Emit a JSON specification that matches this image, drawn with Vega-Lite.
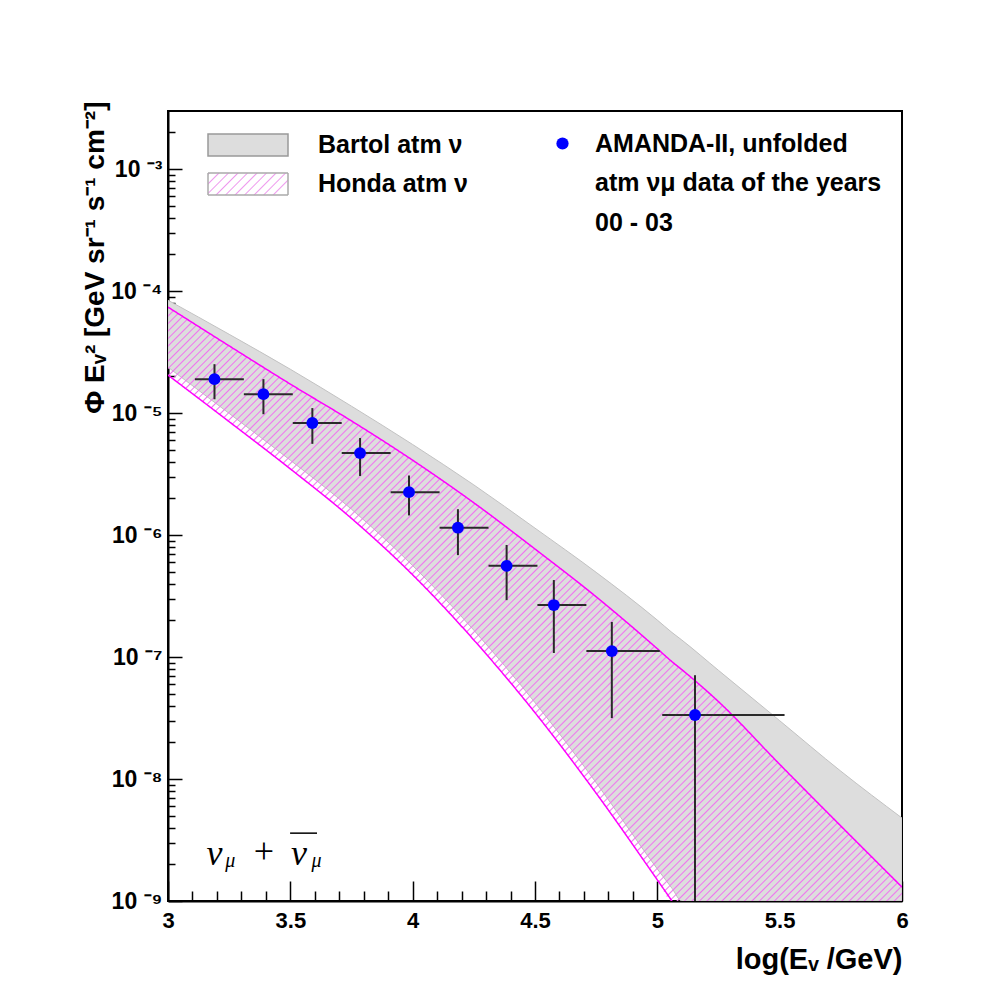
{
  "$schema": "https://vega.github.io/schema/vega-lite/v6.json",
  "width": 734,
  "height": 790,
  "autosize": {"type": "none"},
  "padding": {"left": 168, "top": 111, "right": 90, "bottom": 99},
  "background": "white",
  "resolve": {"axis": {"x": "independent", "y": "independent"}},
  "datasets": {
    "bands": [
      {"x": 3.0, "bartol_lo": 2.38e-5, "bartol_hi": 8.43e-5, "honda_lo": 2.05e-5, "honda_hi": 7.40e-5},
      {"x": 3.25, "bartol_lo": 9.95e-6, "bartol_hi": 4.43e-5, "honda_lo": 8.51e-6, "honda_hi": 3.56e-5},
      {"x": 3.5, "bartol_lo": 4.11e-6, "bartol_hi": 2.29e-5, "honda_lo": 3.49e-6, "honda_hi": 1.73e-5},
      {"x": 3.75, "bartol_lo": 1.63e-6, "bartol_hi": 1.14e-5, "honda_lo": 1.37e-6, "honda_hi": 8.63e-6},
      {"x": 4.0, "bartol_lo": 5.62e-7, "bartol_hi": 5.53e-6, "honda_lo": 4.72e-7, "honda_hi": 4.11e-6},
      {"x": 4.25, "bartol_lo": 1.66e-7, "bartol_hi": 2.58e-6, "honda_lo": 1.38e-7, "honda_hi": 1.84e-6},
      {"x": 4.5, "bartol_lo": 4.23e-8, "bartol_hi": 1.14e-6, "honda_lo": 3.50e-8, "honda_hi": 7.69e-7},
      {"x": 4.75, "bartol_lo": 9.33e-9, "bartol_hi": 4.95e-7, "honda_lo": 7.65e-9, "honda_hi": 3.12e-7},
      {"x": 5.0, "bartol_lo": 1.83e-9, "bartol_hi": 2.01e-7, "honda_lo": 1.49e-9, "honda_hi": 1.17e-7},
      {"x": 5.06, "bartol_lo": 1.27e-9, "bartol_hi": 1.59e-7, "honda_lo": 1.0e-9, "honda_hi": 9.16e-8},
      {"x": 5.1, "bartol_lo": 1.0e-9, "bartol_hi": 1.38e-7, "honda_lo": 1.0e-9, "honda_hi": 7.89e-8},
      {"x": 5.25, "bartol_lo": 1.0e-9, "bartol_hi": 7.78e-8, "honda_lo": 1.0e-9, "honda_hi": 4.31e-8},
      {"x": 5.5, "bartol_lo": 1.0e-9, "bartol_hi": 3.01e-8, "honda_lo": 1.0e-9, "honda_hi": 1.32e-8},
      {"x": 5.75, "bartol_lo": 1.0e-9, "bartol_hi": 1.16e-8, "honda_lo": 1.0e-9, "honda_hi": 4.12e-9},
      {"x": 6.0, "bartol_lo": 1.0e-9, "bartol_hi": 4.79e-9, "honda_lo": 1.0e-9, "honda_hi": 1.30e-9}
    ],
    "amanda": [
      {"x": 3.19, "y": 1.90e-5, "xlo": 3.11, "xhi": 3.31, "ylo": 1.30e-5, "yhi": 2.52e-5},
      {"x": 3.39, "y": 1.43e-5, "xlo": 3.31, "xhi": 3.51, "ylo": 9.8e-6, "yhi": 1.90e-5},
      {"x": 3.59, "y": 8.3e-6, "xlo": 3.51, "xhi": 3.71, "ylo": 5.6e-6, "yhi": 1.10e-5},
      {"x": 3.785, "y": 4.7e-6, "xlo": 3.71, "xhi": 3.91, "ylo": 3.05e-6, "yhi": 6.25e-6},
      {"x": 3.985, "y": 2.25e-6, "xlo": 3.91, "xhi": 4.11, "ylo": 1.45e-6, "yhi": 3.08e-6},
      {"x": 4.185, "y": 1.15e-6, "xlo": 4.11, "xhi": 4.31, "ylo": 6.85e-7, "yhi": 1.63e-6},
      {"x": 4.384, "y": 5.6e-7, "xlo": 4.31, "xhi": 4.51, "ylo": 2.93e-7, "yhi": 8.3e-7},
      {"x": 4.577, "y": 2.67e-7, "xlo": 4.51, "xhi": 4.71, "ylo": 1.08e-7, "yhi": 4.28e-7},
      {"x": 4.814, "y": 1.12e-7, "xlo": 4.71, "xhi": 5.01, "ylo": 3.16e-8, "yhi": 1.94e-7},
      {"x": 5.154, "y": 3.35e-8, "xlo": 5.02, "xhi": 5.52, "ylo": 1.0e-9, "yhi": 7.1e-8}
    ]
  },
  "config": {
    "font": "Liberation Sans",
    "view": {"stroke": "black", "strokeWidth": 2},
    "style": {"guide-label": {"lineHeight": 39.5}},
    "axis": {
      "zindex": 1,
      "grid": false, "domainColor": "black", "domainWidth": 2, "ticks": true, "tickColor": "black", "tickWidth": 1.5, "tickOpacity": 1,
      "labelFont": "Liberation Sans", "labelFontWeight": "bold", "labelFontSize": 22,
      "labelColor": "black", "titleFont": "Liberation Sans", "titleFontWeight": "bold", "titleFontSize": 28,
      "titleColor": "black", "labelOverlap": false, "labelFlush": false, "labelBound": false
    },
    "legend": {
      "labelFont": "Liberation Sans", "labelFontSize": 25, "labelFontWeight": "bold", "labelColor": "black",
      "labelLimit": 600, "padding": 0
    }
  },
  "layer": [
    {
      "data": {"name": "bands"},
      "mark": {"type": "area", "interpolate": "monotone", "clip": true, "stroke": "#c2c2c2", "strokeWidth": 1},
      "encoding": {
        "x": {
          "field": "x", "type": "quantitative",
          "scale": {"domain": [3, 6], "nice": false, "zero": false},
          "axis": {
            "orient": "bottom",
            "values": [3, 3.5, 4, 4.5, 5, 5.5, 6],
            "format": "~g",
            "labelOverlap": false, "labelFlush": false,
            "tickSize": -20, "labelPadding": 29, "labelBaseline": "top",
            "title": "log(Eᵥ /GeV)", "titleAnchor": "end", "titleAlign": "right", "titleFontSize": 29,
            "titleX": 734, "titleY": 58, "titleBaseline": "middle"
          }
        },
        "y": {
          "field": "bartol_hi", "type": "quantitative",
          "scale": {"type": "log", "domain": [1e-9, 3e-3], "nice": false},
          "axis": {
            "orient": "left",
            "values": [1e-9, 1e-8, 1e-7, 1e-6, 1e-5, 1e-4, 1e-3],
            "labelExpr": "'10 ⁻' + ['⁰','¹','²','³','⁴','⁵','⁶','⁷','⁸','⁹'][abs(round(log(datum.value)/LN10))]",
            "labelOverlap": false, "labelFontSize": 23,
            "tickSize": -14, "labelPadding": 20, "labelAlign": "right", "labelBaseline": "middle",
            "title": "Φ Eᵥ² [GeV sr⁻¹ s⁻¹ cm⁻²]", "titleAnchor": "end", "titleAlign": "right",
            "titleX": -73, "titleY": -10, "titleBaseline": "middle"
          }
        },
        "y2": {"field": "bartol_lo"},
        "fill": {
          "datum": "Bartol atm ν",
          "scale": {"range": ["#dddddd"]},
          "legend": {
            "orient": "none", "legendX": 39, "legendY": -7, "title": null,
            "symbolType": "M-1,-0.275H1V0.275H-1Z", "symbolSize": 6400, "labelOffset": 29,
            "symbolStrokeColor": "#999999", "symbolStrokeWidth": 1.5,
            "encode": {"symbols": {"update": {"fill": {"value": "#dddddd"}, "stroke": {"value": "#999999"}, "strokeWidth": {"value": 1.5}}}}
          }
        }
      }
    },
    {
      "data": {"name": "bands"},
      "mark": {
        "type": "area", "interpolate": "monotone", "clip": true, "strokeWidth": 0,
        "fill": {"gradient": "linear", "x1": 0, "y1": 0, "x2": 1.234, "y2": 0.998, "stops": [
{"offset":0,"color":"#e7e0"},{"offset":0.001,"color":"#e7e"},{"offset":0.002,"color":"#e7e0"},{"offset":0.005,"color":"#e7e0"},{"offset":0.006,"color":"#e7e"},{"offset":0.007,"color":"#e7e0"},
{"offset":0.01,"color":"#e7e0"},{"offset":0.011,"color":"#e7e"},{"offset":0.012,"color":"#e7e0"},{"offset":0.015,"color":"#e7e0"},{"offset":0.016,"color":"#e7e"},{"offset":0.017,"color":"#e7e0"},
{"offset":0.02,"color":"#e7e0"},{"offset":0.021,"color":"#e7e"},{"offset":0.022,"color":"#e7e0"},{"offset":0.025,"color":"#e7e0"},{"offset":0.026,"color":"#e7e"},{"offset":0.027,"color":"#e7e0"},
{"offset":0.03,"color":"#e7e0"},{"offset":0.031,"color":"#e7e"},{"offset":0.032,"color":"#e7e0"},{"offset":0.035,"color":"#e7e0"},{"offset":0.036,"color":"#e7e"},{"offset":0.037,"color":"#e7e0"},
{"offset":0.04,"color":"#e7e0"},{"offset":0.041,"color":"#e7e"},{"offset":0.042,"color":"#e7e0"},{"offset":0.045,"color":"#e7e0"},{"offset":0.046,"color":"#e7e"},{"offset":0.047,"color":"#e7e0"},
{"offset":0.05,"color":"#e7e0"},{"offset":0.051,"color":"#e7e"},{"offset":0.052,"color":"#e7e0"},{"offset":0.055,"color":"#e7e0"},{"offset":0.056,"color":"#e7e"},{"offset":0.057,"color":"#e7e0"},
{"offset":0.06,"color":"#e7e0"},{"offset":0.061,"color":"#e7e"},{"offset":0.062,"color":"#e7e0"},{"offset":0.065,"color":"#e7e0"},{"offset":0.066,"color":"#e7e"},{"offset":0.067,"color":"#e7e0"},
{"offset":0.07,"color":"#e7e0"},{"offset":0.071,"color":"#e7e"},{"offset":0.072,"color":"#e7e0"},{"offset":0.075,"color":"#e7e0"},{"offset":0.076,"color":"#e7e"},{"offset":0.077,"color":"#e7e0"},
{"offset":0.08,"color":"#e7e0"},{"offset":0.081,"color":"#e7e"},{"offset":0.082,"color":"#e7e0"},{"offset":0.085,"color":"#e7e0"},{"offset":0.086,"color":"#e7e"},{"offset":0.087,"color":"#e7e0"},
{"offset":0.09,"color":"#e7e0"},{"offset":0.091,"color":"#e7e"},{"offset":0.092,"color":"#e7e0"},{"offset":0.095,"color":"#e7e0"},{"offset":0.096,"color":"#e7e"},{"offset":0.097,"color":"#e7e0"},
{"offset":0.1,"color":"#e7e0"},{"offset":0.101,"color":"#e7e"},{"offset":0.102,"color":"#e7e0"},{"offset":0.105,"color":"#e7e0"},{"offset":0.106,"color":"#e7e"},{"offset":0.107,"color":"#e7e0"},
{"offset":0.11,"color":"#e7e0"},{"offset":0.111,"color":"#e7e"},{"offset":0.112,"color":"#e7e0"},{"offset":0.115,"color":"#e7e0"},{"offset":0.116,"color":"#e7e"},{"offset":0.117,"color":"#e7e0"},
{"offset":0.12,"color":"#e7e0"},{"offset":0.121,"color":"#e7e"},{"offset":0.122,"color":"#e7e0"},{"offset":0.125,"color":"#e7e0"},{"offset":0.126,"color":"#e7e"},{"offset":0.127,"color":"#e7e0"},
{"offset":0.13,"color":"#e7e0"},{"offset":0.131,"color":"#e7e"},{"offset":0.132,"color":"#e7e0"},{"offset":0.135,"color":"#e7e0"},{"offset":0.136,"color":"#e7e"},{"offset":0.137,"color":"#e7e0"},
{"offset":0.14,"color":"#e7e0"},{"offset":0.141,"color":"#e7e"},{"offset":0.142,"color":"#e7e0"},{"offset":0.145,"color":"#e7e0"},{"offset":0.146,"color":"#e7e"},{"offset":0.147,"color":"#e7e0"},
{"offset":0.15,"color":"#e7e0"},{"offset":0.151,"color":"#e7e"},{"offset":0.152,"color":"#e7e0"},{"offset":0.155,"color":"#e7e0"},{"offset":0.156,"color":"#e7e"},{"offset":0.157,"color":"#e7e0"},
{"offset":0.16,"color":"#e7e0"},{"offset":0.161,"color":"#e7e"},{"offset":0.162,"color":"#e7e0"},{"offset":0.165,"color":"#e7e0"},{"offset":0.166,"color":"#e7e"},{"offset":0.167,"color":"#e7e0"},
{"offset":0.17,"color":"#e7e0"},{"offset":0.171,"color":"#e7e"},{"offset":0.172,"color":"#e7e0"},{"offset":0.175,"color":"#e7e0"},{"offset":0.176,"color":"#e7e"},{"offset":0.177,"color":"#e7e0"},
{"offset":0.18,"color":"#e7e0"},{"offset":0.181,"color":"#e7e"},{"offset":0.182,"color":"#e7e0"},{"offset":0.185,"color":"#e7e0"},{"offset":0.186,"color":"#e7e"},{"offset":0.187,"color":"#e7e0"},
{"offset":0.19,"color":"#e7e0"},{"offset":0.191,"color":"#e7e"},{"offset":0.192,"color":"#e7e0"},{"offset":0.195,"color":"#e7e0"},{"offset":0.196,"color":"#e7e"},{"offset":0.197,"color":"#e7e0"},
{"offset":0.2,"color":"#e7e0"},{"offset":0.201,"color":"#e7e"},{"offset":0.202,"color":"#e7e0"},{"offset":0.205,"color":"#e7e0"},{"offset":0.206,"color":"#e7e"},{"offset":0.207,"color":"#e7e0"},
{"offset":0.21,"color":"#e7e0"},{"offset":0.211,"color":"#e7e"},{"offset":0.212,"color":"#e7e0"},{"offset":0.215,"color":"#e7e0"},{"offset":0.216,"color":"#e7e"},{"offset":0.217,"color":"#e7e0"},
{"offset":0.22,"color":"#e7e0"},{"offset":0.221,"color":"#e7e"},{"offset":0.222,"color":"#e7e0"},{"offset":0.225,"color":"#e7e0"},{"offset":0.226,"color":"#e7e"},{"offset":0.227,"color":"#e7e0"},
{"offset":0.23,"color":"#e7e0"},{"offset":0.231,"color":"#e7e"},{"offset":0.232,"color":"#e7e0"},{"offset":0.235,"color":"#e7e0"},{"offset":0.236,"color":"#e7e"},{"offset":0.237,"color":"#e7e0"},
{"offset":0.24,"color":"#e7e0"},{"offset":0.241,"color":"#e7e"},{"offset":0.242,"color":"#e7e0"},{"offset":0.245,"color":"#e7e0"},{"offset":0.246,"color":"#e7e"},{"offset":0.247,"color":"#e7e0"},
{"offset":0.25,"color":"#e7e0"},{"offset":0.251,"color":"#e7e"},{"offset":0.252,"color":"#e7e0"},{"offset":0.255,"color":"#e7e0"},{"offset":0.256,"color":"#e7e"},{"offset":0.257,"color":"#e7e0"},
{"offset":0.26,"color":"#e7e0"},{"offset":0.261,"color":"#e7e"},{"offset":0.262,"color":"#e7e0"},{"offset":0.265,"color":"#e7e0"},{"offset":0.266,"color":"#e7e"},{"offset":0.267,"color":"#e7e0"},
{"offset":0.27,"color":"#e7e0"},{"offset":0.271,"color":"#e7e"},{"offset":0.272,"color":"#e7e0"},{"offset":0.275,"color":"#e7e0"},{"offset":0.276,"color":"#e7e"},{"offset":0.277,"color":"#e7e0"},
{"offset":0.28,"color":"#e7e0"},{"offset":0.281,"color":"#e7e"},{"offset":0.282,"color":"#e7e0"},{"offset":0.285,"color":"#e7e0"},{"offset":0.286,"color":"#e7e"},{"offset":0.287,"color":"#e7e0"},
{"offset":0.29,"color":"#e7e0"},{"offset":0.291,"color":"#e7e"},{"offset":0.292,"color":"#e7e0"},{"offset":0.295,"color":"#e7e0"},{"offset":0.296,"color":"#e7e"},{"offset":0.297,"color":"#e7e0"},
{"offset":0.3,"color":"#e7e0"},{"offset":0.301,"color":"#e7e"},{"offset":0.302,"color":"#e7e0"},{"offset":0.305,"color":"#e7e0"},{"offset":0.306,"color":"#e7e"},{"offset":0.307,"color":"#e7e0"},
{"offset":0.31,"color":"#e7e0"},{"offset":0.311,"color":"#e7e"},{"offset":0.312,"color":"#e7e0"},{"offset":0.315,"color":"#e7e0"},{"offset":0.316,"color":"#e7e"},{"offset":0.317,"color":"#e7e0"},
{"offset":0.32,"color":"#e7e0"},{"offset":0.321,"color":"#e7e"},{"offset":0.322,"color":"#e7e0"},{"offset":0.325,"color":"#e7e0"},{"offset":0.326,"color":"#e7e"},{"offset":0.327,"color":"#e7e0"},
{"offset":0.33,"color":"#e7e0"},{"offset":0.331,"color":"#e7e"},{"offset":0.332,"color":"#e7e0"},{"offset":0.335,"color":"#e7e0"},{"offset":0.336,"color":"#e7e"},{"offset":0.337,"color":"#e7e0"},
{"offset":0.34,"color":"#e7e0"},{"offset":0.341,"color":"#e7e"},{"offset":0.342,"color":"#e7e0"},{"offset":0.345,"color":"#e7e0"},{"offset":0.346,"color":"#e7e"},{"offset":0.347,"color":"#e7e0"},
{"offset":0.35,"color":"#e7e0"},{"offset":0.351,"color":"#e7e"},{"offset":0.352,"color":"#e7e0"},{"offset":0.355,"color":"#e7e0"},{"offset":0.356,"color":"#e7e"},{"offset":0.357,"color":"#e7e0"},
{"offset":0.36,"color":"#e7e0"},{"offset":0.361,"color":"#e7e"},{"offset":0.362,"color":"#e7e0"},{"offset":0.365,"color":"#e7e0"},{"offset":0.366,"color":"#e7e"},{"offset":0.367,"color":"#e7e0"},
{"offset":0.37,"color":"#e7e0"},{"offset":0.371,"color":"#e7e"},{"offset":0.372,"color":"#e7e0"},{"offset":0.375,"color":"#e7e0"},{"offset":0.376,"color":"#e7e"},{"offset":0.377,"color":"#e7e0"},
{"offset":0.38,"color":"#e7e0"},{"offset":0.381,"color":"#e7e"},{"offset":0.382,"color":"#e7e0"},{"offset":0.385,"color":"#e7e0"},{"offset":0.386,"color":"#e7e"},{"offset":0.387,"color":"#e7e0"},
{"offset":0.39,"color":"#e7e0"},{"offset":0.391,"color":"#e7e"},{"offset":0.392,"color":"#e7e0"},{"offset":0.395,"color":"#e7e0"},{"offset":0.396,"color":"#e7e"},{"offset":0.397,"color":"#e7e0"},
{"offset":0.4,"color":"#e7e0"},{"offset":0.401,"color":"#e7e"},{"offset":0.402,"color":"#e7e0"},{"offset":0.405,"color":"#e7e0"},{"offset":0.406,"color":"#e7e"},{"offset":0.407,"color":"#e7e0"},
{"offset":0.41,"color":"#e7e0"},{"offset":0.411,"color":"#e7e"},{"offset":0.412,"color":"#e7e0"},{"offset":0.415,"color":"#e7e0"},{"offset":0.416,"color":"#e7e"},{"offset":0.417,"color":"#e7e0"},
{"offset":0.42,"color":"#e7e0"},{"offset":0.421,"color":"#e7e"},{"offset":0.422,"color":"#e7e0"},{"offset":0.425,"color":"#e7e0"},{"offset":0.426,"color":"#e7e"},{"offset":0.427,"color":"#e7e0"},
{"offset":0.43,"color":"#e7e0"},{"offset":0.431,"color":"#e7e"},{"offset":0.432,"color":"#e7e0"},{"offset":0.435,"color":"#e7e0"},{"offset":0.436,"color":"#e7e"},{"offset":0.437,"color":"#e7e0"},
{"offset":0.44,"color":"#e7e0"},{"offset":0.441,"color":"#e7e"},{"offset":0.442,"color":"#e7e0"},{"offset":0.445,"color":"#e7e0"},{"offset":0.446,"color":"#e7e"},{"offset":0.447,"color":"#e7e0"},
{"offset":0.45,"color":"#e7e0"},{"offset":0.451,"color":"#e7e"},{"offset":0.452,"color":"#e7e0"},{"offset":0.455,"color":"#e7e0"},{"offset":0.456,"color":"#e7e"},{"offset":0.457,"color":"#e7e0"},
{"offset":0.46,"color":"#e7e0"},{"offset":0.461,"color":"#e7e"},{"offset":0.462,"color":"#e7e0"},{"offset":0.465,"color":"#e7e0"},{"offset":0.466,"color":"#e7e"},{"offset":0.467,"color":"#e7e0"},
{"offset":0.47,"color":"#e7e0"},{"offset":0.471,"color":"#e7e"},{"offset":0.472,"color":"#e7e0"},{"offset":0.475,"color":"#e7e0"},{"offset":0.476,"color":"#e7e"},{"offset":0.477,"color":"#e7e0"},
{"offset":0.48,"color":"#e7e0"},{"offset":0.481,"color":"#e7e"},{"offset":0.482,"color":"#e7e0"},{"offset":0.485,"color":"#e7e0"},{"offset":0.486,"color":"#e7e"},{"offset":0.487,"color":"#e7e0"},
{"offset":0.49,"color":"#e7e0"},{"offset":0.491,"color":"#e7e"},{"offset":0.492,"color":"#e7e0"},{"offset":0.495,"color":"#e7e0"},{"offset":0.496,"color":"#e7e"},{"offset":0.497,"color":"#e7e0"},
{"offset":0.5,"color":"#e7e0"},{"offset":0.501,"color":"#e7e"},{"offset":0.502,"color":"#e7e0"},{"offset":0.505,"color":"#e7e0"},{"offset":0.506,"color":"#e7e"},{"offset":0.507,"color":"#e7e0"},
{"offset":0.51,"color":"#e7e0"},{"offset":0.511,"color":"#e7e"},{"offset":0.512,"color":"#e7e0"},{"offset":0.515,"color":"#e7e0"},{"offset":0.516,"color":"#e7e"},{"offset":0.517,"color":"#e7e0"},
{"offset":0.52,"color":"#e7e0"},{"offset":0.521,"color":"#e7e"},{"offset":0.522,"color":"#e7e0"},{"offset":0.525,"color":"#e7e0"},{"offset":0.526,"color":"#e7e"},{"offset":0.527,"color":"#e7e0"},
{"offset":0.53,"color":"#e7e0"},{"offset":0.531,"color":"#e7e"},{"offset":0.532,"color":"#e7e0"},{"offset":0.535,"color":"#e7e0"},{"offset":0.536,"color":"#e7e"},{"offset":0.537,"color":"#e7e0"},
{"offset":0.54,"color":"#e7e0"},{"offset":0.541,"color":"#e7e"},{"offset":0.542,"color":"#e7e0"},{"offset":0.545,"color":"#e7e0"},{"offset":0.546,"color":"#e7e"},{"offset":0.547,"color":"#e7e0"},
{"offset":0.55,"color":"#e7e0"},{"offset":0.551,"color":"#e7e"},{"offset":0.552,"color":"#e7e0"},{"offset":0.555,"color":"#e7e0"},{"offset":0.556,"color":"#e7e"},{"offset":0.557,"color":"#e7e0"},
{"offset":0.56,"color":"#e7e0"},{"offset":0.561,"color":"#e7e"},{"offset":0.562,"color":"#e7e0"},{"offset":0.565,"color":"#e7e0"},{"offset":0.566,"color":"#e7e"},{"offset":0.567,"color":"#e7e0"},
{"offset":0.57,"color":"#e7e0"},{"offset":0.571,"color":"#e7e"},{"offset":0.572,"color":"#e7e0"},{"offset":0.575,"color":"#e7e0"},{"offset":0.576,"color":"#e7e"},{"offset":0.577,"color":"#e7e0"},
{"offset":0.58,"color":"#e7e0"},{"offset":0.581,"color":"#e7e"},{"offset":0.582,"color":"#e7e0"},{"offset":0.585,"color":"#e7e0"},{"offset":0.586,"color":"#e7e"},{"offset":0.587,"color":"#e7e0"},
{"offset":0.59,"color":"#e7e0"},{"offset":0.591,"color":"#e7e"},{"offset":0.592,"color":"#e7e0"},{"offset":0.595,"color":"#e7e0"},{"offset":0.596,"color":"#e7e"},{"offset":0.597,"color":"#e7e0"},
{"offset":0.6,"color":"#e7e0"},{"offset":0.601,"color":"#e7e"},{"offset":0.602,"color":"#e7e0"},{"offset":0.605,"color":"#e7e0"},{"offset":0.606,"color":"#e7e"},{"offset":0.607,"color":"#e7e0"},
{"offset":0.61,"color":"#e7e0"},{"offset":0.611,"color":"#e7e"},{"offset":0.612,"color":"#e7e0"},{"offset":0.615,"color":"#e7e0"},{"offset":0.616,"color":"#e7e"},{"offset":0.617,"color":"#e7e0"},
{"offset":0.62,"color":"#e7e0"},{"offset":0.621,"color":"#e7e"},{"offset":0.622,"color":"#e7e0"},{"offset":0.625,"color":"#e7e0"},{"offset":0.626,"color":"#e7e"},{"offset":0.627,"color":"#e7e0"},
{"offset":0.63,"color":"#e7e0"},{"offset":0.631,"color":"#e7e"},{"offset":0.632,"color":"#e7e0"},{"offset":0.635,"color":"#e7e0"},{"offset":0.636,"color":"#e7e"},{"offset":0.637,"color":"#e7e0"},
{"offset":0.64,"color":"#e7e0"},{"offset":0.641,"color":"#e7e"},{"offset":0.642,"color":"#e7e0"},{"offset":0.645,"color":"#e7e0"},{"offset":0.646,"color":"#e7e"},{"offset":0.647,"color":"#e7e0"},
{"offset":0.65,"color":"#e7e0"},{"offset":0.651,"color":"#e7e"},{"offset":0.652,"color":"#e7e0"},{"offset":0.655,"color":"#e7e0"},{"offset":0.656,"color":"#e7e"},{"offset":0.657,"color":"#e7e0"},
{"offset":0.66,"color":"#e7e0"},{"offset":0.661,"color":"#e7e"},{"offset":0.662,"color":"#e7e0"},{"offset":0.665,"color":"#e7e0"},{"offset":0.666,"color":"#e7e"},{"offset":0.667,"color":"#e7e0"},
{"offset":0.67,"color":"#e7e0"},{"offset":0.671,"color":"#e7e"},{"offset":0.672,"color":"#e7e0"},{"offset":0.675,"color":"#e7e0"},{"offset":0.676,"color":"#e7e"},{"offset":0.677,"color":"#e7e0"},
{"offset":0.68,"color":"#e7e0"},{"offset":0.681,"color":"#e7e"},{"offset":0.682,"color":"#e7e0"},{"offset":0.685,"color":"#e7e0"},{"offset":0.686,"color":"#e7e"},{"offset":0.687,"color":"#e7e0"},
{"offset":0.69,"color":"#e7e0"},{"offset":0.691,"color":"#e7e"},{"offset":0.692,"color":"#e7e0"},{"offset":0.695,"color":"#e7e0"},{"offset":0.696,"color":"#e7e"},{"offset":0.697,"color":"#e7e0"},
{"offset":0.7,"color":"#e7e0"},{"offset":0.701,"color":"#e7e"},{"offset":0.702,"color":"#e7e0"},{"offset":0.705,"color":"#e7e0"},{"offset":0.706,"color":"#e7e"},{"offset":0.707,"color":"#e7e0"},
{"offset":0.71,"color":"#e7e0"},{"offset":0.711,"color":"#e7e"},{"offset":0.712,"color":"#e7e0"},{"offset":0.715,"color":"#e7e0"},{"offset":0.716,"color":"#e7e"},{"offset":0.717,"color":"#e7e0"},
{"offset":0.72,"color":"#e7e0"},{"offset":0.721,"color":"#e7e"},{"offset":0.722,"color":"#e7e0"},{"offset":0.725,"color":"#e7e0"},{"offset":0.726,"color":"#e7e"},{"offset":0.727,"color":"#e7e0"},
{"offset":0.73,"color":"#e7e0"},{"offset":0.731,"color":"#e7e"},{"offset":0.732,"color":"#e7e0"},{"offset":0.735,"color":"#e7e0"},{"offset":0.736,"color":"#e7e"},{"offset":0.737,"color":"#e7e0"},
{"offset":0.74,"color":"#e7e0"},{"offset":0.741,"color":"#e7e"},{"offset":0.742,"color":"#e7e0"},{"offset":0.745,"color":"#e7e0"},{"offset":0.746,"color":"#e7e"},{"offset":0.747,"color":"#e7e0"},
{"offset":0.75,"color":"#e7e0"},{"offset":0.751,"color":"#e7e"},{"offset":0.752,"color":"#e7e0"},{"offset":0.755,"color":"#e7e0"},{"offset":0.756,"color":"#e7e"},{"offset":0.757,"color":"#e7e0"},
{"offset":0.76,"color":"#e7e0"},{"offset":0.761,"color":"#e7e"},{"offset":0.762,"color":"#e7e0"},{"offset":0.765,"color":"#e7e0"},{"offset":0.766,"color":"#e7e"},{"offset":0.767,"color":"#e7e0"},
{"offset":0.77,"color":"#e7e0"},{"offset":0.771,"color":"#e7e"},{"offset":0.772,"color":"#e7e0"},{"offset":0.775,"color":"#e7e0"},{"offset":0.776,"color":"#e7e"},{"offset":0.777,"color":"#e7e0"},
{"offset":0.78,"color":"#e7e0"},{"offset":0.781,"color":"#e7e"},{"offset":0.782,"color":"#e7e0"},{"offset":0.785,"color":"#e7e0"},{"offset":0.786,"color":"#e7e"},{"offset":0.787,"color":"#e7e0"},
{"offset":0.79,"color":"#e7e0"},{"offset":0.791,"color":"#e7e"},{"offset":0.792,"color":"#e7e0"},{"offset":0.795,"color":"#e7e0"},{"offset":0.796,"color":"#e7e"},{"offset":0.797,"color":"#e7e0"},
{"offset":0.8,"color":"#e7e0"},{"offset":0.801,"color":"#e7e"},{"offset":0.802,"color":"#e7e0"},{"offset":0.805,"color":"#e7e0"},{"offset":0.806,"color":"#e7e"},{"offset":0.807,"color":"#e7e0"},
{"offset":0.81,"color":"#e7e0"},{"offset":0.811,"color":"#e7e"},{"offset":0.812,"color":"#e7e0"},{"offset":0.815,"color":"#e7e0"},{"offset":0.816,"color":"#e7e"},{"offset":0.817,"color":"#e7e0"},
{"offset":0.82,"color":"#e7e0"},{"offset":0.821,"color":"#e7e"},{"offset":0.822,"color":"#e7e0"},{"offset":0.825,"color":"#e7e0"},{"offset":0.826,"color":"#e7e"},{"offset":0.827,"color":"#e7e0"},
{"offset":0.83,"color":"#e7e0"},{"offset":0.831,"color":"#e7e"},{"offset":0.832,"color":"#e7e0"},{"offset":0.835,"color":"#e7e0"},{"offset":0.836,"color":"#e7e"},{"offset":0.837,"color":"#e7e0"},
{"offset":0.84,"color":"#e7e0"},{"offset":0.841,"color":"#e7e"},{"offset":0.842,"color":"#e7e0"},{"offset":0.845,"color":"#e7e0"},{"offset":0.846,"color":"#e7e"},{"offset":0.847,"color":"#e7e0"},
{"offset":0.85,"color":"#e7e0"},{"offset":0.851,"color":"#e7e"},{"offset":0.852,"color":"#e7e0"},{"offset":0.855,"color":"#e7e0"},{"offset":0.856,"color":"#e7e"},{"offset":0.857,"color":"#e7e0"},
{"offset":0.86,"color":"#e7e0"},{"offset":0.861,"color":"#e7e"},{"offset":0.862,"color":"#e7e0"},{"offset":0.865,"color":"#e7e0"},{"offset":0.866,"color":"#e7e"},{"offset":0.867,"color":"#e7e0"},
{"offset":0.87,"color":"#e7e0"},{"offset":0.871,"color":"#e7e"},{"offset":0.872,"color":"#e7e0"},{"offset":0.875,"color":"#e7e0"},{"offset":0.876,"color":"#e7e"},{"offset":0.877,"color":"#e7e0"},
{"offset":0.88,"color":"#e7e0"},{"offset":0.881,"color":"#e7e"},{"offset":0.882,"color":"#e7e0"},{"offset":0.885,"color":"#e7e0"},{"offset":0.886,"color":"#e7e"},{"offset":0.887,"color":"#e7e0"}
        ]}
      },
      "encoding": {
        "x": {
          "field": "x", "type": "quantitative",
          "axis": {
            "orient": "bottom", "values": [3.1, 3.2, 3.3, 3.4, 3.6, 3.7, 3.8, 3.9, 4.1, 4.2, 4.3, 4.4, 4.6, 4.7, 4.8, 4.9, 5.1, 5.2, 5.3, 5.4, 5.6, 5.7, 5.8, 5.9],
            "tickSize": -10, "labels": false, "domain": false, "title": null
          }
        },
        "y": {
          "field": "honda_hi", "type": "quantitative",
          "axis": {
            "orient": "left",
            "values": [2e-9, 3e-9, 4e-9, 5e-9, 6e-9, 7e-9, 8e-9, 9e-9, 2e-8, 3e-8, 4e-8, 5e-8, 6e-8, 7e-8, 8e-8, 9e-8, 2e-7, 3e-7, 4e-7, 5e-7, 6e-7, 7e-7, 8e-7, 9e-7, 2e-6, 3e-6, 4e-6, 5e-6, 6e-6, 7e-6, 8e-6, 9e-6, 2e-5, 3e-5, 4e-5, 5e-5, 6e-5, 7e-5, 8e-5, 9e-5, 2e-4, 3e-4, 4e-4, 5e-4, 6e-4, 7e-4, 8e-4, 9e-4, 2e-3],
            "tickSize": -7, "labels": false, "domain": false, "title": null
          }
        },
        "y2": {"field": "honda_lo"}
      }
    },
    {
      "data": {"name": "bands"},
      "transform": [
        {"fold": ["honda_hi", "honda_lo"], "as": ["edge", "val"]},
        {"filter": "datum.edge == 'honda_hi' || datum.x <= 5.07"}
      ],
      "mark": {"type": "line", "interpolate": "monotone", "clip": true, "strokeWidth": 1.5, "stroke": "#ff00ff"},
      "encoding": {
        "x": {"field": "x", "type": "quantitative", "axis": null},
        "y": {"field": "val", "type": "quantitative", "axis": null},
        "detail": {"field": "edge", "type": "nominal"},
        "strokeDash": {
          "datum": "Honda atm ν",
          "scale": {"range": [[1, 0]]},
          "legend": {
            "orient": "none", "legendX": 39, "legendY": 32, "title": null,
            "symbolType": "M-1,-0.275H1V0.275H-1Z", "symbolSize": 6400, "labelOffset": 29,
            "symbolStrokeColor": "#aaaaaa", "symbolStrokeWidth": 1.5,
            "encode": {"symbols": {"update": {
              "fill": {"value": {"gradient": "linear", "x1": 0, "y1": 0, "x2": 1.107, "y2": 0.304, "stops": [
                {"offset":0,"color":"#e9e0"},{"offset":0.015,"color":"#e9e"},{"offset":0.03,"color":"#e9e0"},
                {"offset":0.1,"color":"#e9e0"},{"offset":0.115,"color":"#e9e"},{"offset":0.13,"color":"#e9e0"},
                {"offset":0.2,"color":"#e9e0"},{"offset":0.215,"color":"#e9e"},{"offset":0.23,"color":"#e9e0"},
                {"offset":0.3,"color":"#e9e0"},{"offset":0.315,"color":"#e9e"},{"offset":0.33,"color":"#e9e0"},
                {"offset":0.4,"color":"#e9e0"},{"offset":0.415,"color":"#e9e"},{"offset":0.43,"color":"#e9e0"},
                {"offset":0.5,"color":"#e9e0"},{"offset":0.515,"color":"#e9e"},{"offset":0.53,"color":"#e9e0"},
                {"offset":0.6,"color":"#e9e0"},{"offset":0.615,"color":"#e9e"},{"offset":0.63,"color":"#e9e0"},
                {"offset":0.7,"color":"#e9e0"},{"offset":0.715,"color":"#e9e"},{"offset":0.73,"color":"#e9e0"},
                {"offset":0.8,"color":"#e9e0"},{"offset":0.815,"color":"#e9e"},{"offset":0.83,"color":"#e9e0"},
                {"offset":0.9,"color":"#e9e0"},{"offset":0.915,"color":"#e9e"},{"offset":0.93,"color":"#e9e0"}
              ]}},
              "stroke": {"value": "#aaaaaa"}, "strokeWidth": {"value": 1.5}, "opacity": {"value": 1}
            }}}
          }
        }
      }
    },
    {
      "data": {"name": "amanda"},
      "mark": {"type": "rule", "strokeWidth": 2, "color": "#2a2a2a", "clip": true},
      "encoding": {
        "x": {"field": "xlo", "type": "quantitative", "axis": null},
        "x2": {"field": "xhi"},
        "y": {"field": "y", "type": "quantitative", "axis": null}
      }
    },
    {
      "data": {"name": "amanda"},
      "mark": {"type": "rule", "strokeWidth": 2, "color": "#2a2a2a", "clip": true},
      "encoding": {
        "x": {"field": "x", "type": "quantitative", "axis": null},
        "y": {"field": "ylo", "type": "quantitative", "axis": null},
        "y2": {"field": "yhi"}
      }
    },
    {
      "data": {"name": "amanda"},
      "mark": {"type": "point", "filled": true, "shape": "circle", "size": 140, "opacity": 1},
      "encoding": {
        "x": {"field": "x", "type": "quantitative", "axis": null},
        "y": {"field": "y", "type": "quantitative", "axis": null},
        "color": {
          "datum": "AMANDA",
          "scale": {"range": ["#0000ff"]},
          "legend": {
            "orient": "none", "legendX": 382, "legendY": 20, "title": null,
            "symbolType": "circle", "symbolSize": 150, "labelOffset": 20,
            "labelExpr": "['AMANDA-II, unfolded', 'atm νμ data of the years', '00 - 03']",
            "encode": {"labels": {"update": {"lineHeight": {"value": 39.5}}}}
          }
        }
      }
    },
    {
      "data": {"values": [{}]},
      "mark": {"type": "text", "text": "ν", "font": "Liberation Serif", "fontStyle": "italic", "fontSize": 36, "baseline": "alphabetic", "align": "center", "color": "black"},
      "encoding": {"x": {"datum": 3.19, "axis": null}, "y": {"datum": 1.97e-9, "axis": null}}
    },
    {
      "data": {"values": [{}]},
      "mark": {"type": "text", "text": "μ", "font": "Liberation Serif", "fontStyle": "italic", "fontSize": 20, "baseline": "alphabetic", "align": "center", "color": "black"},
      "encoding": {"x": {"datum": 3.255, "axis": null}, "y": {"datum": 1.90e-9, "axis": null}}
    },
    {
      "data": {"values": [{}]},
      "mark": {"type": "text", "text": "+", "font": "Liberation Serif", "fontSize": 36, "baseline": "alphabetic", "align": "center", "color": "black"},
      "encoding": {"x": {"datum": 3.392, "axis": null}, "y": {"datum": 2.05e-9, "axis": null}}
    },
    {
      "data": {"values": [{}]},
      "mark": {"type": "text", "text": "ν", "font": "Liberation Serif", "fontStyle": "italic", "fontSize": 36, "baseline": "alphabetic", "align": "center", "color": "black"},
      "encoding": {"x": {"datum": 3.535, "axis": null}, "y": {"datum": 1.97e-9, "axis": null}}
    },
    {
      "data": {"values": [{}]},
      "mark": {"type": "text", "text": "μ", "font": "Liberation Serif", "fontStyle": "italic", "fontSize": 20, "baseline": "alphabetic", "align": "center", "color": "black"},
      "encoding": {"x": {"datum": 3.607, "axis": null}, "y": {"datum": 1.90e-9, "axis": null}}
    },
    {
      "data": {"values": [{}]},
      "mark": {"type": "rule", "strokeWidth": 1.5, "color": "black"},
      "encoding": {"x": {"datum": 3.499, "axis": null}, "x2": {"datum": 3.609}, "y": {"datum": 3.6e-9, "axis": null}}
    }
  ]
}
